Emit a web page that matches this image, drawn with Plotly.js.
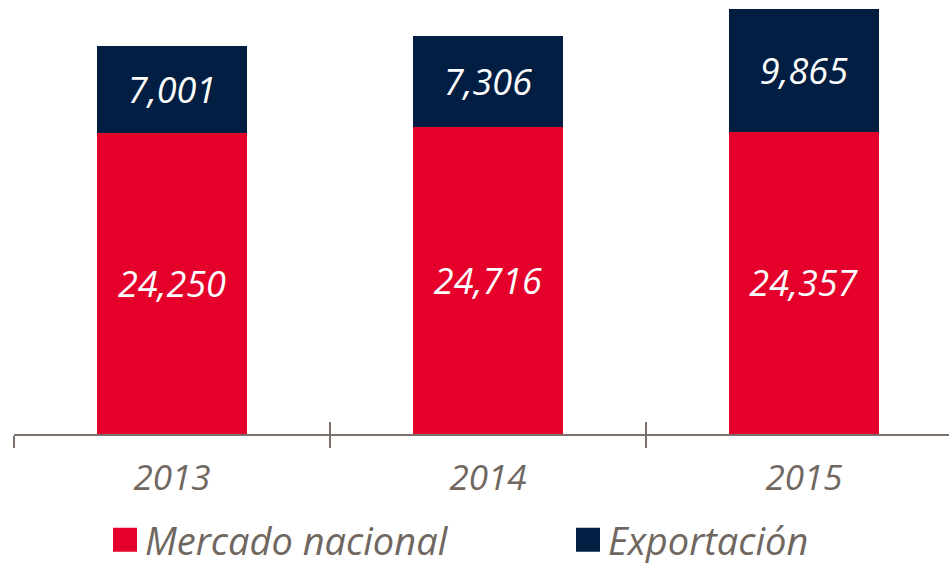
<!DOCTYPE html>
<html>
<head>
<meta charset="utf-8">
<script src="https://cdn.plot.ly/plotly-3.0.1.min.js"></script>
<style>
html,body{margin:0;padding:0;background:#fff;}
#chart{width:949px;height:563px;}
</style>
</head>
<body>
<div id="chart"></div>
<script>
var years = ['2013', '2014', '2015'];
var mercadoNacional = [24250, 24716, 24357];
var exportacion = [7001, 7306, 9865];
var seriesNames = ['Mercado nacional', 'Exportación'];
var boundaryTicks = [-0.5, 0.5, 1.5];

var RED = '#e4002b';
var NAVY = '#021e42';
var GRAY = '#6f6760';
var FONT = '"Open Sans", Roboto, "Liberation Sans", sans-serif';

var textFont = {family: FONT, size: 36, color: '#ffffff', style: 'italic'};

var traces = [
  {
    type: 'bar', name: seriesNames[0], x: years, y: mercadoNacional,
    marker: {color: RED, line: {width: 0}},
    texttemplate: '%{y:,.0f}', textposition: 'inside', insidetextanchor: 'middle',
    textfont: textFont, constraintext: 'none', hoverinfo: 'skip'
  },
  {
    type: 'bar', name: seriesNames[1], x: years, y: exportacion,
    marker: {color: NAVY, line: {width: 0}},
    texttemplate: '%{y:,.0f}', textposition: 'inside', insidetextanchor: 'middle',
    textfont: textFont, constraintext: 'none', hoverinfo: 'skip'
  },
  {
    type: 'scatter', mode: 'none', x: boundaryTicks, y: [0, 0, 0],
    xaxis: 'x2', yaxis: 'y', showlegend: false, hoverinfo: 'skip'
  }
];

var layout = {
  width: 949, height: 563,
  margin: {l: 14, r: 0, t: 0, b: 129},
  paper_bgcolor: '#ffffff', plot_bgcolor: '#ffffff',
  barmode: 'stack', bargap: 0.525,
  showlegend: true,
  hovermode: false,
  xaxis: {
    type: 'category', range: [-0.5, 2.459],
    showline: true, linecolor: '#7d726b', linewidth: 1.5,
    ticks: 'outside', tickson: 'boundaries', ticklen: 12, tickwidth: 1.5, tickcolor: '#7d726b',
    tickfont: {family: FONT, size: 35, color: GRAY, style: 'italic'},
    ticklabelstandoff: 12,
    showgrid: false, zeroline: false, fixedrange: true
  },
  xaxis2: {
    overlaying: 'x', anchor: 'y', type: 'linear', range: [-0.5, 2.459],
    tickmode: 'array', tickvals: boundaryTicks, ticks: 'inside', ticklen: 12, tickwidth: 1.5, tickcolor: '#7d726b',
    showticklabels: false, showline: false, showgrid: false, zeroline: false, side: 'bottom'
  },
  yaxis: {
    range: [0, 34958], visible: false, showgrid: false, zeroline: false, fixedrange: true
  },
  legend: {
    orientation: 'h', traceorder: 'normal',
    xref: 'container', yref: 'container',
    x: 105 / 949, y: 23 / 563, xanchor: 'left', yanchor: 'middle',
    font: {family: FONT, size: 38, color: GRAY, style: 'italic'},
    entrywidthmode: 'pixels', entrywidth: 418,
    bgcolor: 'rgba(0,0,0,0)', borderwidth: 0
  }
};

Plotly.newPlot('chart', traces, layout, {displayModeBar: false, staticPlot: true}).then(function () {
  document.querySelectorAll('.legend .legendpoints path').forEach(function (p) {
    var t = p.getAttribute('transform') || '';
    p.setAttribute('transform', t + ' scale(2)');
  });
});
</script>
</body>
</html>
